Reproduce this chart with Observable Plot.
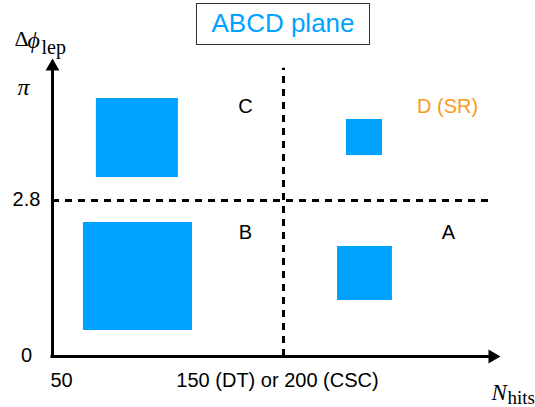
<!DOCTYPE html>
<html>
<head>
<meta charset="utf-8">
<script src="https://cdn.jsdelivr.net/npm/d3@7"></script>
<script src="https://cdn.jsdelivr.net/npm/@observablehq/plot@0.6"></script>
<style>
  html, body { margin: 0; padding: 0; background: #fff; }
  #wrap { position: relative; width: 535px; height: 407px; overflow: hidden; }
  #title {
    position: absolute; left: 196px; top: 3px; width: 174px; height: 42px;
    box-sizing: border-box; border: 1.5px solid #333;
    font-family: "Liberation Sans", Arial, sans-serif; font-size: 26px;
    color: #00a2ff; text-align: center; line-height: 39px;
  }
  #wrap svg { position: absolute; left: 0; top: 0; }
</style>
</head>
<body>
<div id="wrap"><div id="title">ABCD plane</div></div>
<script>
// ---- data (schematic ABCD plane) ----
const xTicks = [50, 150];
const xTickLabels = ["50", "150 (DT) or 200 (CSC)"];
const yTicks = [0, 2.8, Math.PI];
const yTickLabels = ["0", "2.8", "π"];

const regions = ["A", "B", "C", "D (SR)"];
const boxX1 = [174.9, 63.4, 69.0, 179.0];
const boxX2 = [200.2, 110.6, 104.5, 195.6];
const boxY1 = [1.005, 0.467, 2.870, 2.937];
const boxY2 = [1.975, 2.405, 3.111, 3.047];

const labelX = [226, 133.5, 133.5, 225.6];
const labelY = [2.226, 2.226, 3.087, 3.087];
const labelColor = ["black", "black", "black", "#fa9a1e"];

const xAxisEnd = 250;      // arrow tip (N_hits)
const yAxisEnd = 3.233;    // arrow tip (Δφ_lep)
const xHeadCenter = 246.3;
const yHeadCenter = 3.2087;
const xCut = 150, yCut = 2.8;
const vDashTop = 3.203, hDashEnd = 244.5;

const boxes = regions.map((r, i) => ({r, x1: boxX1[i], x2: boxX2[i], y1: boxY1[i], y2: boxY2[i]}));
const labels = regions.map((r, i) => ({r, x: labelX[i], y: labelY[i], c: labelColor[i]}));
const xt = xTicks.map((v, i) => ({v, t: xTickLabels[i]}));
const yt = yTicks.map((v, i) => ({v, t: yTickLabels[i]}));

const sans = "Liberation Sans, Arial, sans-serif";
const serif = "Liberation Serif, Times New Roman, serif";
const blue = "#00a2ff";

const chart = Plot.plot({
  width: 535,
  height: 407,
  marginTop: 0, marginRight: 0, marginBottom: 0, marginLeft: 0,
  style: {background: "transparent"},
  x: {type: "linear", domain: [50, 150, 250], range: [52, 283, 500], axis: null},
  y: {type: "linear", domain: [0, 2.8, Math.PI], range: [356, 200, 88], axis: null},
  marks: [
    // blue boxes
    Plot.rect(boxes, {x1: "x1", x2: "x2", y1: "y1", y2: "y2", fill: blue}),
    // dashed cut lines
    Plot.ruleX([xCut], {y1: 0, y2: vDashTop, stroke: "black", strokeWidth: 3, strokeDasharray: "7,6"}),
    Plot.ruleY([yCut], {x1: 50, x2: hDashEnd, stroke: "black", strokeWidth: 3, strokeDasharray: "7,6"}),
    // axes with arrow heads
    Plot.ruleY([0], {x1: 50, x2: xHeadCenter, stroke: "black", strokeWidth: 3, strokeLinecap: "square"}),
    Plot.ruleX([50], {y1: 0, y2: yHeadCenter, stroke: "black", strokeWidth: 3, strokeLinecap: "square"}),
    Plot.dot([{x: 50, y: yHeadCenter}], {x: "x", y: "y", symbol: "triangle", r: 5.14, fill: "black", stroke: "none"}),
    Plot.dot([{x: xHeadCenter, y: 0}], {x: "x", y: "y", symbol: "triangle", r: 5.14, fill: "black", stroke: "none", rotate: 90}),
    // region labels
    Plot.text(labels, {x: "x", y: "y", text: "r", fill: "c", fontFamily: sans, fontSize: 20}),
    // y tick labels
    Plot.text(yt.filter(d => d.t !== "π"), {x: () => 50, y: "v", text: "t", dx: -26, dy: -1, fontFamily: sans, fontSize: 20}),
    Plot.text(yt.filter(d => d.t === "π"), {x: () => 50, y: "v", text: "t", dx: -29, dy: -1, fontFamily: serif, fontStyle: "italic", fontSize: 24}),
    // x tick labels
    Plot.text(xt.slice(0, 1), {x: "v", y: () => 0, text: "t", dx: -2, dy: 24, textAnchor: "start", fontFamily: sans, fontSize: 20}),
    Plot.text(xt.slice(1), {x: "v", y: () => 0, text: "t", dx: -6, dy: 24, fontFamily: sans, fontSize: 20}),
    // axis titles
    Plot.text(["Δ"], {frameAnchor: "top-left", dx: 14, dy: 30, text: d => d, textAnchor: "start", fontFamily: serif, fontSize: 22}),
    Plot.text(["ϕ"], {frameAnchor: "top-left", dx: 27, dy: 30, text: d => d, textAnchor: "start", fontFamily: serif, fontStyle: "italic", fontSize: 24}),
    Plot.text(["lep"], {frameAnchor: "top-left", dx: 41, dy: 39, text: d => d, textAnchor: "start", fontFamily: serif, fontSize: 20}),
    Plot.text(["N"], {frameAnchor: "top-left", dx: 491, dy: 383, text: d => d, textAnchor: "start", fontFamily: serif, fontStyle: "italic", fontSize: 23}),
    Plot.text(["hits"], {frameAnchor: "top-left", dx: 507, dy: 390, text: d => d, textAnchor: "start", fontFamily: serif, fontSize: 19})
  ]
});
document.getElementById("wrap").appendChild(chart);
</script>
</body>
</html>
